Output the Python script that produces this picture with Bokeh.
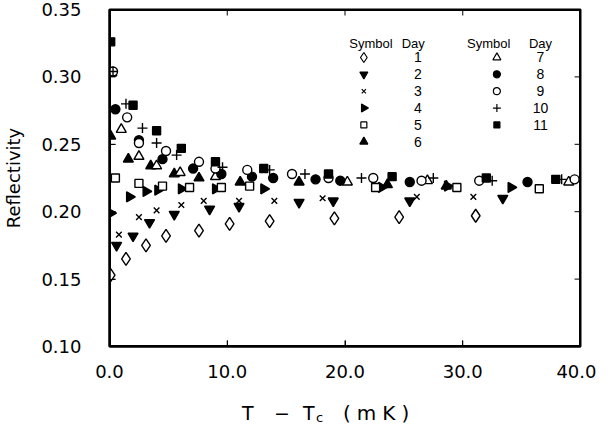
import math
from bokeh.plotting import figure
from bokeh.layouts import column
from bokeh.models import Range1d, FixedTicker, NumeralTickFormatter, Div, BoxAnnotation
from bokeh.core.properties import value
from bokeh.embed import file_html
from bokeh.resources import INLINE

# ---- data (T - Tc in mK, reflectivity) ----
day1_x = [0.1, 1.4, 3.1, 4.8, 7.6, 10.2, 13.6, 19.1, 24.6, 31.1]
day1_y = [0.153, 0.165, 0.175, 0.182, 0.186, 0.191, 0.193, 0.195, 0.196, 0.197]
day2_x = [0.6, 2.0, 3.4, 5.5, 8.5, 11.0, 16.1, 19.0, 25.5, 33.4]
day2_y = [0.175, 0.182, 0.192, 0.198, 0.202, 0.204, 0.207, 0.208, 0.208, 0.210]
day3_x = [0.8, 2.5, 4.0, 6.1, 8.0, 11.0, 14.0, 18.1, 26.1, 30.9]
day3_y = [0.183, 0.196, 0.201, 0.205, 0.208, 0.208, 0.208, 0.210, 0.211, 0.211]
day4_x = [0.1, 1.7, 3.1, 4.1, 6.1, 9.0, 13.1, 23.1, 28.7, 34.1]
day4_y = [0.199, 0.211, 0.215, 0.216, 0.217, 0.217, 0.217, 0.218, 0.219, 0.218]
day5_x = [0.5, 2.5, 4.5, 6.8, 9.5, 11.9, 22.6, 29.5, 36.5]
day5_y = [0.225, 0.221, 0.219, 0.218, 0.218, 0.219, 0.218, 0.218, 0.217]
day6_x = [0.1, 1.6, 3.5, 5.5, 7.6, 11.1, 16.1, 23.6, 28.6]
day6_y = [0.256, 0.239, 0.234, 0.228, 0.225, 0.222, 0.222, 0.220, 0.219]
day7_x = [0.2, 1.0, 2.5, 4.0, 6.0, 9.0, 20.2, 27.0, 39.0]
day7_y = [0.303, 0.261, 0.241, 0.234, 0.229, 0.226, 0.222, 0.223, 0.222]
day8_x = [0.5, 2.5, 4.5, 7.1, 9.5, 12.1, 13.9, 17.5, 19.6, 25.5, 35.5]
day8_y = [0.276, 0.253, 0.239, 0.232, 0.228, 0.226, 0.225, 0.224, 0.223, 0.222, 0.222]
day9_x = [0.3, 1.5, 2.5, 4.8, 7.6, 9.0, 11.7, 15.5, 18.6, 22.4, 26.5, 31.4, 39.5]
day9_y = [0.304, 0.270, 0.251, 0.245, 0.237, 0.232, 0.231, 0.228, 0.225, 0.225, 0.223, 0.223, 0.224]
day10_x = [0.3, 1.4, 2.8, 4.0, 5.7, 9.6, 13.6, 16.6, 21.4, 27.5, 32.5, 38.4]
day10_y = [0.304, 0.280, 0.262, 0.251, 0.242, 0.233, 0.231, 0.228, 0.225, 0.225, 0.223, 0.224]
day11_x = [0.1, 2.0, 4.0, 6.1, 9.0, 13.1, 18.6, 24.0, 32.0, 37.9]
day11_y = [0.326, 0.279, 0.260, 0.247, 0.237, 0.232, 0.228, 0.226, 0.225, 0.224]

days = ["1", "2", "3", "4", "5", "6", "7", "8", "9", "10", "11"]
x_ticks = [0, 10, 20, 30, 40]
y_ticks = [0.10, 0.15, 0.20, 0.25, 0.30, 0.35]

series = [(day1_x, day1_y), (day2_x, day2_y), (day3_x, day3_y), (day4_x, day4_y),
          (day5_x, day5_y), (day6_x, day6_y), (day7_x, day7_y), (day8_x, day8_y),
          (day9_x, day9_y), (day10_x, day10_y), (day11_x, day11_y)]

# marker styles: (marker, filled, size, legend size, rotated)
styles = [
    ("diamond", False, 13, 10, False),
    ("inverted_triangle", True, 10, 8, False),
    ("x", False, 8, 6, False),
    ("triangle", True, 10, 8, True),
    ("square", False, 8, 6, False),
    ("triangle", True, 10, 8, False),
    ("triangle", False, 10, 8, False),
    ("circle", True, 9, 7, False),
    ("circle", False, 9, 7, False),
    ("cross", False, 10, 8, False),
    ("square", True, 8, 6, False),
]

FONT = "DejaVu Sans"
W, H = 596, 390
LEFT, TOP, FW, FH = 104, 9, 476, 337
X0, X1, Y0, Y1 = 0, 40, 0.10, 0.35

p = figure(width=W, height=H, x_range=Range1d(X0, X1), y_range=Range1d(Y0, Y1),
           output_backend="svg", toolbar_location=None,
           min_border_left=LEFT, min_border_right=W - LEFT - FW,
           min_border_top=TOP, min_border_bottom=H - TOP - FH)
p.grid.visible = False
p.outline_line_color = "black"
p.outline_line_width = 2

for ax in (p.xaxis[0], p.yaxis[0]):
    ax.major_tick_in = 6
    ax.major_tick_out = 0
    ax.minor_tick_line_color = None
    ax.axis_line_color = "black"
    ax.axis_line_width = 2
    ax.major_tick_line_color = "black"
    ax.major_label_text_font = FONT
    ax.major_label_text_font_size = "18px"
    ax.major_label_text_color = "black"

p.xaxis.ticker = FixedTicker(ticks=x_ticks)
p.xaxis.formatter = NumeralTickFormatter(format="0.0")
p.xaxis.major_label_standoff = 18
p.yaxis.ticker = FixedTicker(ticks=y_ticks)
p.yaxis.formatter = NumeralTickFormatter(format="0.00")
p.yaxis.major_label_standoff = 28
p.yaxis.axis_label = "Reflectivity"
p.yaxis.axis_label_text_font = FONT
p.yaxis.axis_label_text_font_size = "18px"
p.yaxis.axis_label_text_font_style = "normal"
p.yaxis.axis_label_text_color = "black"
p.yaxis.axis_label_standoff = 14

# ---- frame (from the ranges) and inward ticks on all four sides (from the tick lists) ----
p.line([X0, X1, X1, X0, X0], [Y0, Y0, Y1, Y1, Y0], line_color="black", line_width=3)
tdx = 6 * (X1 - X0) / FW
tdy = 6 * (Y1 - Y0) / FH
tick_xs = [[t, t] for t in x_ticks] + [[t, t] for t in x_ticks] \
    + [[X0, X0 + tdx] for _ in y_ticks] + [[X1, X1 - tdx] for _ in y_ticks]
tick_ys = [[Y0, Y0 + tdy] for _ in x_ticks] + [[Y1, Y1 - tdy] for _ in x_ticks] \
    + [[t, t] for t in y_ticks] + [[t, t] for t in y_ticks]
p.multi_line(tick_xs, tick_ys, line_color="black", line_width=1)
p.add_layout(BoxAnnotation(left=X0, right=X1, bottom=Y0, top=Y1, fill_alpha=0,
                           fill_color=None, line_color="black", line_width=2, line_alpha=1))

for (xs, ys), (mk, filled, sz, lsz, rot) in zip(series, styles):
    kw = dict(angle=-math.pi / 2) if rot else {}
    p.scatter(xs, ys, marker=mk, size=sz, fill_color="black" if filled else "white",
              line_color="black", line_width=1.4, **kw)

# ---- legend table (positions in data units) ----
hdr_y = 0.3248
row_y0 = 0.3144
row_dy = 0.0125
cols = [(22.2, 25.8, 21.6, 26.2), (32.2, 36.6, 32.9, 36.6)]
for sx, dx, _, _ in cols:
    p.text([sx], [hdr_y], text=["Symbol"], text_font=value("Liberation Sans"),
           text_font_size="13px", text_align="center", text_baseline="middle")
    p.text([dx], [hdr_y], text=["Day"], text_font=value("Liberation Sans"),
           text_font_size="13px", text_align="center", text_baseline="middle")
for i, (d, (mk, filled, sz, lsz, rot)) in enumerate(zip(days, styles)):
    c = 0 if i < 6 else 1
    r = i if i < 6 else i - 6
    _, _, mx, nx = cols[c]
    yy = row_y0 - r * row_dy
    kw = dict(angle=-math.pi / 2) if rot else {}
    p.scatter([mx], [yy], marker=mk, size=lsz,
              fill_color="black" if filled else "white", line_color="black", line_width=1.2, **kw)
    p.text([nx], [yy], text=[d], text_font=value("Liberation Sans"),
           text_font_size="14px", text_align="center", text_baseline="middle")

# ---- x axis title with subscript, as HTML below the figure ----
span = "position:absolute;top:13px;font-family:'DejaVu Sans';font-size:19px;color:black;white-space:nowrap;line-height:20px;"
title_html = (
    '<div style="position:relative;width:596px;height:20px;">'
    f'<span style="{span}left:242px;">T</span>'
    f'<span style="{span}left:274px;">&minus;</span>'
    f'<span style="{span}left:303px;">T</span>'
    f'<span style="{span}left:316px;top:18px;font-size:13px;">c</span>'
    f'<span style="{span}left:343px;letter-spacing:6px;font-size:20px;">(mK)</span>'
    '</div>'
)
xtitle = Div(text=title_html, width=W, height=20, margin=(0, 0, 0, 0))

layout = column(p, xtitle, spacing=0)
open("out.html", "w").write(file_html(layout, INLINE))
